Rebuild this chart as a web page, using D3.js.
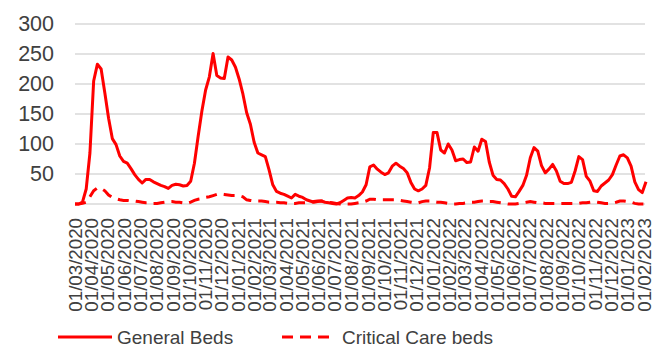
<!DOCTYPE html>
<html>
<head>
<meta charset="utf-8">
<script src="https://cdn.jsdelivr.net/npm/d3@7"></script>
<style>
  html, body { margin: 0; padding: 0; background: #fff; }
  svg { display: block; font-family: "Liberation Sans", Arial, sans-serif; }
</style>
</head>
<body>
<svg id="chart" width="655" height="350"></svg>
<script>
// Weekly bed occupancy, first week starting 1 March 2020
const firstWeek = "2020-03-01";

const generalBeds = [
  0, 0, 3, 25, 85, 205, 233, 225, 185, 143,
  109, 99, 80, 71, 68, 59, 49, 41, 35, 41,
  41, 37, 34, 31, 29, 26, 31, 33, 32, 30,
  31, 38, 68, 113, 155, 190, 212, 251, 214, 210,
  209, 245, 240, 228, 208, 183, 152, 133, 103, 85,
  82, 79, 57, 32, 21, 18, 16, 13, 10, 16,
  13, 11, 7, 5, 3, 4, 5, 3, 2, 1,
  0, 2, 6, 10, 11, 10, 14, 20, 32, 62,
  65, 58, 53, 49, 52, 63, 68, 63, 59, 52,
  36, 25, 22, 25, 31, 60, 119, 119, 90, 85,
  100, 90, 72, 74, 75, 69, 70, 95, 88, 108,
  104, 70, 48, 41, 40, 34, 25, 13, 12, 21,
  31, 48, 77, 94, 88, 64, 52, 58, 66, 55,
  38, 34, 34, 36, 55, 79, 74, 46, 38, 22,
  21, 30, 35, 40, 49, 65, 80, 82, 77, 63,
  37, 24, 19, 37
];

const criticalCareBeds = [
  0, 0, 1, 3, 12, 22, 27, 26, 22, 15,
  11, 9, 7, 6, 6, 5, 5, 4, 3, 2,
  2, 1, 1, 2, 3, 4, 4, 3, 3, 2,
  1, 3, 6, 8, 9, 11, 12, 14, 16, 17,
  16, 15, 14, 14, 14, 12, 7, 6, 5, 5,
  5, 4, 3, 3, 3, 2, 2, 1, 1, 1,
  2, 2, 2, 3, 4, 5, 5, 4, 3, 2,
  1, 0, 0, 0, 0, 1, 2, 3, 5, 8,
  8, 7, 7, 7, 7, 7, 7, 6, 5, 4,
  3, 2, 2, 4, 5, 5, 4, 3, 3, 2,
  1, 0, 0, 1, 1, 2, 3, 3, 4, 5,
  5, 4, 4, 3, 2, 1, 0, 0, 0, 1,
  2, 3, 4, 3, 2, 2, 1, 1, 1, 1,
  1, 1, 1, 1, 1, 1, 2, 2, 3, 4,
  3, 2, 1, 1, 2, 3, 5, 5, 4, 3,
  1, 0, 0, 0
];

const yTicks = [50, 100, 150, 200, 250, 300];
const seriesNames = ["General Beds", "Critical Care beds"];

const svg = d3.select("#chart");
const margin = { left: 75, top: 24, plotBottom: 204 };

const parse = d3.timeParse("%Y-%m-%d");
const start = parse(firstWeek);
const dates = generalBeds.map((_, i) => d3.timeWeek.offset(start, i));

const x = d3.scaleTime()
  .domain([start, dates[dates.length - 1]])
  .range([margin.left, 646]);
const y = d3.scaleLinear().domain([0, 300]).range([margin.plotBottom, margin.top]);

// Horizontal gridlines and baseline
svg.append("g")
  .selectAll("line")
  .data([0].concat(yTicks))
  .join("line")
  .attr("x1", margin.left)
  .attr("x2", 645)
  .attr("y1", d => y(d))
  .attr("y2", d => y(d))
  .attr("stroke", "#d9d9d9")
  .attr("stroke-width", 1.5);

// Y axis labels
const yAxis = d3.axisLeft(y).tickValues(yTicks).tickSize(0).tickPadding(0);
svg.append("g")
  .attr("transform", "translate(54,0)")
  .call(yAxis)
  .call(g => g.select(".domain").remove())
  .call(g => g.selectAll("text")
    .attr("fill", "#404040")
    .style("font-size", "21.5px")
    .style("font-family", "'Liberation Sans', Arial, sans-serif"));

// X axis: monthly labels, rotated to read upwards
const months = d3.timeMonth.range(start, d3.timeDay.offset(dates[dates.length - 1], 1));
const fmt = d3.timeFormat("%d/%m/%Y");
const xAxis = d3.axisBottom(x).tickValues(months).tickFormat(fmt).tickSize(0).tickPadding(0);
svg.append("g")
  .attr("transform", "translate(0,218)")
  .call(xAxis)
  .call(g => g.select(".domain").remove())
  .call(g => g.selectAll("text")
    .attr("fill", "#404040")
    .style("font-size", "18px")
    .style("font-family", "'Liberation Sans', Arial, sans-serif")
    .attr("text-anchor", "end")
    .attr("dy", "0.35em")
    .attr("y", 0)
    .attr("transform", "rotate(-90) scale(1.04,1)"));

// Lines
const line = vals => d3.line()
  .x((d, i) => x(dates[i]))
  .y(d => y(d))(vals);

svg.append("path")
  .attr("d", line(criticalCareBeds))
  .attr("fill", "none")
  .attr("stroke", "#ff0000")
  .attr("stroke-width", 3)
  .attr("stroke-dasharray", "11,7");

svg.append("path")
  .attr("d", line(generalBeds))
  .attr("fill", "none")
  .attr("stroke", "#ff0000")
  .attr("stroke-width", 3)
  .attr("stroke-linejoin", "round");

// Legend
const legend = svg.append("g");
const legendItems = [
  { name: seriesNames[0], x1: 58, x2: 112, tx: 117, dash: null },
  { name: seriesNames[1], x1: 282, x2: 329, tx: 342, dash: "11,7" }
];
legendItems.forEach(it => {
  legend.append("line")
    .attr("x1", it.x1).attr("x2", it.x2)
    .attr("y1", 337).attr("y2", 337)
    .attr("stroke", "#ff0000")
    .attr("stroke-width", 3)
    .attr("stroke-dasharray", it.dash);
  legend.append("text")
    .attr("x", it.tx)
    .attr("y", 344)
    .attr("fill", "#404040")
    .style("font-size", "19px")
    .text(it.name);
});
</script>
</body>
</html>
